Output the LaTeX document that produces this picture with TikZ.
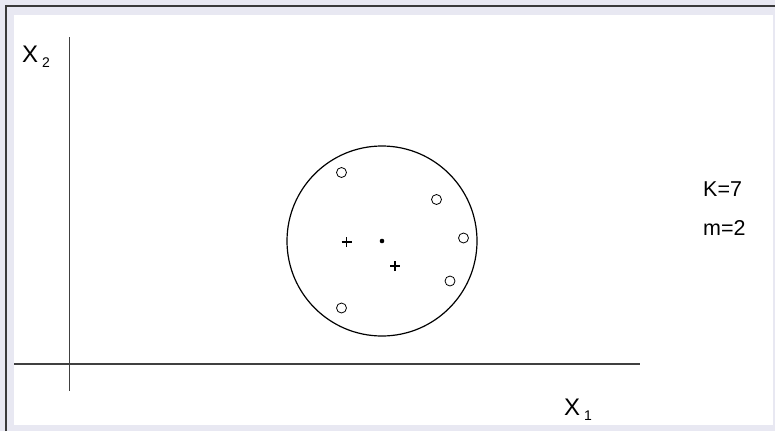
\documentclass[tikz,border=0pt]{standalone}
\usepackage{fontspec}
\setmainfont{Liberation Sans}
\definecolor{bgl}{HTML}{E8E8F2}
\definecolor{frm}{HTML}{3A3A3A}
\definecolor{axc}{HTML}{404040}
\tikzset{
  axis/.style={draw=axc, line width=1.6pt},
  pt/.style={circle, draw=black, line width=0.8pt, minimum size=10pt, inner sep=0pt},
  lbl/.style={inner sep=0pt, anchor=base west, font=\fontsize{24}{24}\selectfont},
  par/.style={inner sep=0pt, anchor=base west, font=\fontsize{21.5}{21.5}\selectfont},
  plus/.style={draw=black, line width=1.2pt}
}
\newcommand{\subsc}[1]{\hspace{4pt}\raisebox{-5pt}{\fontsize{14}{14}\selectfont #1}}
\begin{document}
\begin{tikzpicture}[x=1pt,y=-1pt]
\useasboundingbox (0,0) rectangle (775,431);
\fill[bgl] (0,0) rectangle (775,431);
\draw[frm, line width=1.6pt] (6,431) -- (6,6) -- (775,6);
\fill[white] (14,15) rectangle (773,425);
% axes
\coordinate (ytop) at (69.5,37);
\coordinate (ybot) at (69.5,391);
\coordinate (xl) at (14,364);
\coordinate (xr) at (640,364);
\draw[axis, line width=1.3pt] (ytop) -- (ybot);
\draw[axis] (xl) -- (xr);
% labels
\node[lbl] (x2) at (22,62) {X\subsc{2}};
\node[lbl] (x1) at (564,415) {X\subsc{1}};
\node[par] (k) at (703,196) {K=7};
\node[par] (m) at (703,235) {m=2};
% circle
\node[circle, draw=black, line width=1.2pt, minimum size=190pt, inner sep=0pt] (c) at (382,241) {};
\fill (c.center) circle (2.3pt);
% points
\node[pt] (p1) at (341.5,172.5) {};
\node[pt] (p2) at (436.5,199.5) {};
\node[pt] (p3) at (463.5,238) {};
\node[pt] (p4) at (450,281) {};
\node[pt] (p5) at (341.5,308) {};
% plus
\coordinate (q1) at (346.5,242);
\coordinate (q2) at (395,266);
\foreach \q in {q1,q2} {
  \draw[plus] ([xshift=-5pt]\q) -- ([xshift=5pt]\q);
  \draw[plus] ([yshift=-5pt]\q) -- ([yshift=5pt]\q);
}
\end{tikzpicture}
\end{document}
